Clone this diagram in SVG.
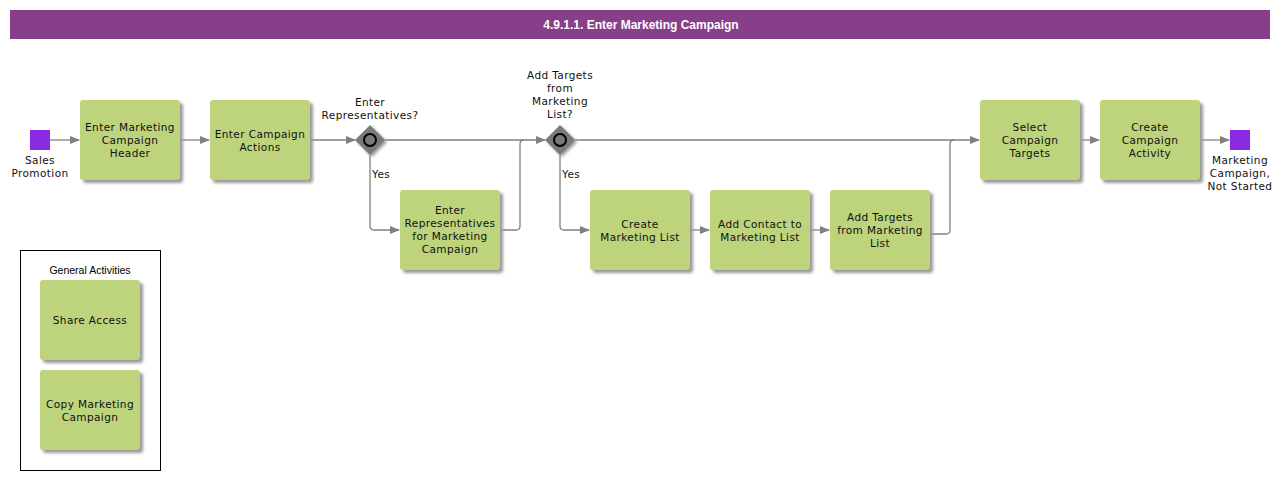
<svg xmlns="http://www.w3.org/2000/svg" width="1284" height="480" viewBox="0 0 1284 480">
<style>
.task{fill:#bdd37c;}
.tt{font-family:"DejaVu Sans",Verdana,sans-serif;font-size:10.5px;fill:#111;text-anchor:middle;letter-spacing:0.4px;}
.lbl{font-family:"DejaVu Sans",Verdana,sans-serif;font-size:10.5px;fill:#111;text-anchor:middle;letter-spacing:0.4px;}
.ev{fill:#8a2be2;}
.gw{fill:#7a7a7a;}
.conn{fill:none;stroke:#808080;stroke-width:1.3;}
</style>
<defs>
<filter id="sh" x="-20%" y="-20%" width="140%" height="140%">
<feGaussianBlur stdDeviation="1.5"/>
</filter>
<marker id="arr" markerWidth="10" markerHeight="10" refX="9" refY="5" orient="auto" markerUnits="userSpaceOnUse">
<path d="M0,1 L10,5 L0,9 z" fill="#808080"/>
</marker>
</defs>
<rect width="1284" height="480" fill="#ffffff"/>
<g id="title">
<rect x="10" y="10" width="1260" height="29" fill="#873f8a"/>
<text x="641" y="29" font-family="Liberation Sans,Arial,sans-serif" font-size="12" font-weight="bold" fill="#ffffff" text-anchor="middle">4.9.1.1. Enter Marketing Campaign</text>
</g>
<g id="connectors">
<path class="conn" d="M50,140 H79" marker-end="url(#arr)"/>
<path class="conn" d="M180,140 H209" marker-end="url(#arr)"/>
<path class="conn" d="M310,140 H355" marker-end="url(#arr)"/>
<path class="conn" d="M385,140 H545" marker-end="url(#arr)"/>
<path class="conn" d="M370,155 V226 Q370,230 374,230 H399" marker-end="url(#arr)"/>
<path class="conn" d="M500,230 H516 Q520,230 520,226 V144 Q520,140 524,140"/>
<path class="conn" d="M575,140 H979" marker-end="url(#arr)"/>
<path class="conn" d="M560,155 V226 Q560,230 564,230 H589" marker-end="url(#arr)"/>
<path class="conn" d="M690,230 H709" marker-end="url(#arr)"/>
<path class="conn" d="M810,230 H829" marker-end="url(#arr)"/>
<path class="conn" d="M930,234 H946 Q950,234 950,230 V144 Q950,140 954,140"/>
<path class="conn" d="M1080,140 H1099" marker-end="url(#arr)"/>
<path class="conn" d="M1200,140 H1229" marker-end="url(#arr)"/>
<text x="372" y="178" class="lbl" style="text-anchor:start">Yes</text>
<text x="562" y="178" class="lbl" style="text-anchor:start">Yes</text>
</g>
<g id="start">
<rect class="ev" x="30" y="130" width="20" height="20"/>
<text class="lbl" x="40" y="164">Sales</text>
<text class="lbl" x="40" y="177">Promotion</text>
</g>
<g id="t1">
<rect x="83" y="103" width="100" height="80" rx="3" fill="#999" filter="url(#sh)"/>
<rect class="task" x="80" y="100" width="100" height="80" rx="3"/>
<text class="tt" x="130" y="131">Enter Marketing</text>
<text class="tt" x="130" y="144">Campaign</text>
<text class="tt" x="130" y="157">Header</text>
</g>
<g id="t2">
<rect x="213" y="103" width="100" height="80" rx="3" fill="#999" filter="url(#sh)"/>
<rect class="task" x="210" y="100" width="100" height="80" rx="3"/>
<text class="tt" x="260" y="138">Enter Campaign</text>
<text class="tt" x="260" y="151">Actions</text>
</g>
<g id="g1">
<path d="M372,127 L387,142 L372,157 L357,142 z" fill="#999" filter="url(#sh)"/>
<path class="gw" d="M370,125 L385,140 L370,155 L355,140 z"/>
<circle cx="370" cy="140" r="6" fill="#7a7a7a" stroke="#000" stroke-width="2"/>
<text class="lbl" x="370" y="106">Enter</text>
<text class="lbl" x="370" y="119">Representatives?</text>
</g>
<g id="t3">
<rect x="403" y="193" width="100" height="80" rx="3" fill="#999" filter="url(#sh)"/>
<rect class="task" x="400" y="190" width="100" height="80" rx="3"/>
<text class="tt" x="450" y="214">Enter</text>
<text class="tt" x="450" y="227">Representatives</text>
<text class="tt" x="450" y="240">for Marketing</text>
<text class="tt" x="450" y="253">Campaign</text>
</g>
<g id="g2">
<path d="M562,127 L577,142 L562,157 L547,142 z" fill="#999" filter="url(#sh)"/>
<path class="gw" d="M560,125 L575,140 L560,155 L545,140 z"/>
<circle cx="560" cy="140" r="6" fill="#7a7a7a" stroke="#000" stroke-width="2"/>
<text class="lbl" x="560" y="79">Add Targets</text>
<text class="lbl" x="560" y="92">from</text>
<text class="lbl" x="560" y="105">Marketing</text>
<text class="lbl" x="560" y="118">List?</text>
</g>
<g id="t4">
<rect x="593" y="193" width="100" height="80" rx="3" fill="#999" filter="url(#sh)"/>
<rect class="task" x="590" y="190" width="100" height="80" rx="3"/>
<text class="tt" x="640" y="228">Create</text>
<text class="tt" x="640" y="241">Marketing List</text>
</g>
<g id="t5">
<rect x="713" y="193" width="100" height="80" rx="3" fill="#999" filter="url(#sh)"/>
<rect class="task" x="710" y="190" width="100" height="80" rx="3"/>
<text class="tt" x="760" y="228">Add Contact to</text>
<text class="tt" x="760" y="241">Marketing List</text>
</g>
<g id="t6">
<rect x="833" y="193" width="100" height="80" rx="3" fill="#999" filter="url(#sh)"/>
<rect class="task" x="830" y="190" width="100" height="80" rx="3"/>
<text class="tt" x="880" y="221">Add Targets</text>
<text class="tt" x="880" y="234">from Marketing</text>
<text class="tt" x="880" y="247">List</text>
</g>
<g id="t7">
<rect x="983" y="103" width="100" height="80" rx="3" fill="#999" filter="url(#sh)"/>
<rect class="task" x="980" y="100" width="100" height="80" rx="3"/>
<text class="tt" x="1030" y="131">Select</text>
<text class="tt" x="1030" y="144">Campaign</text>
<text class="tt" x="1030" y="157">Targets</text>
</g>
<g id="t8">
<rect x="1103" y="103" width="100" height="80" rx="3" fill="#999" filter="url(#sh)"/>
<rect class="task" x="1100" y="100" width="100" height="80" rx="3"/>
<text class="tt" x="1150" y="131">Create</text>
<text class="tt" x="1150" y="144">Campaign</text>
<text class="tt" x="1150" y="157">Activity</text>
</g>
<g id="end">
<rect class="ev" x="1230" y="130" width="20" height="20"/>
<text class="lbl" x="1240" y="164">Marketing</text>
<text class="lbl" x="1240" y="177">Campaign,</text>
<text class="lbl" x="1240" y="190">Not Started</text>
</g>
<g id="general">
<rect x="20.5" y="250.5" width="140" height="220" fill="none" stroke="#000" stroke-width="1"/>
<text x="90" y="274" font-family="Liberation Sans,Arial,sans-serif" font-size="10.5" fill="#000" text-anchor="middle">General Activities</text>
</g>
<g id="share">
<rect x="43" y="283" width="100" height="80" rx="3" fill="#999" filter="url(#sh)"/>
<rect class="task" x="40" y="280" width="100" height="80" rx="3"/>
<text class="tt" x="90" y="324">Share Access</text>
</g>
<g id="copy">
<rect x="43" y="373" width="100" height="80" rx="3" fill="#999" filter="url(#sh)"/>
<rect class="task" x="40" y="370" width="100" height="80" rx="3"/>
<text class="tt" x="90" y="408">Copy Marketing</text>
<text class="tt" x="90" y="421">Campaign</text>
</g>
</svg>
